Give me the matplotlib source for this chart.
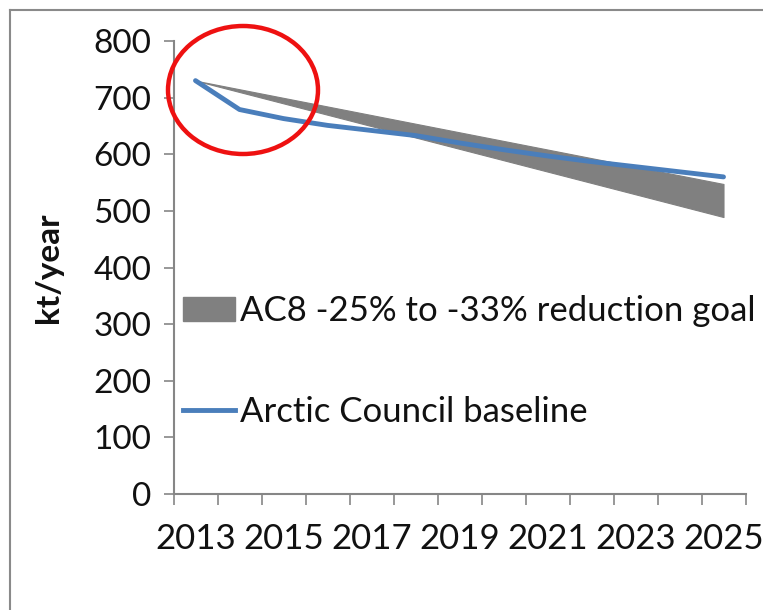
import numpy as np
import matplotlib
matplotlib.use("Agg")
import matplotlib.pyplot as plt
from matplotlib.patches import Ellipse
from matplotlib.lines import Line2D

# data
years = list(range(2013, 2026))
baseline = [730, 679, 663, 651, 642, 633, 620, 608, 597, 587, 578, 569, 560]
goal_start = 730
goal_low_pct = 0.33   # -33%
goal_high_pct = 0.25  # -25%
tick_labels = [str(y) for y in years[::2]]

plt.rcParams['font.family'] = ['Lato', 'DejaVu Sans']

W, H = 763, 610
fig = plt.figure(figsize=(W / 100, H / 100), dpi=100)

def px(x0, y0, x1, y1):
    return [x0 / W, 1 - y1 / H, (x1 - x0) / W, (y1 - y0) / H]

ax = fig.add_axes(px(173.5, 41, 745.5, 494))

x = np.arange(len(years))
# goal band: straight reduction from start year to final year
frac = x / x[-1]
upper = goal_start * (1 - goal_high_pct * frac)
lower = goal_start * (1 - goal_low_pct * frac)
ax.fill_between(x, lower, upper, color='#808080', linewidth=0.8,
                edgecolor='#808080', zorder=2)
ax.plot(x, baseline, color='#4a7ebb', lw=3.5, solid_capstyle='round',
        solid_joinstyle='round', zorder=3)

ax.set_xlim(-0.5, len(years) - 0.5)
ax.set_ylim(0, 800)
ax.set_yticks(range(0, 801, 100))
ax.set_xticks(x[::2])
ax.set_xticklabels(tick_labels)
ax.set_xticks(np.arange(-0.5, len(years), 1.0), minor=True)

for s in ['top', 'right']:
    ax.spines[s].set_visible(False)
for s in ['left', 'bottom']:
    ax.spines[s].set_color('#868686')
    ax.spines[s].set_linewidth(1.5)

ax.tick_params(axis='y', length=7, width=1.2, color='#868686', pad=9,
               labelsize=24, labelcolor='#111111')
ax.tick_params(axis='x', which='major', length=0, pad=21,
               labelsize=25, labelcolor='#111111')
ax.tick_params(axis='x', which='minor', length=8, width=1.2, color='#868686')

ax.set_ylabel('kt/year', fontsize=24, fontweight='bold', labelpad=22,
              color='#111111')

handles = [plt.Rectangle((0, 0), 1, 1, color='#808080'),
           Line2D([0], [0], color='#4a7ebb', lw=3.5)]
leg = ax.legend(handles, ['AC8 -25% to -33% reduction goal',
                          'Arctic Council baseline'],
                loc='upper left', bbox_to_anchor=(-0.008, 0.47), frameon=False,
                fontsize=25, handlelength=1.5, handletextpad=0.15,
                labelspacing=2.0, borderaxespad=0.0)
for t in leg.get_texts():
    t.set_color('#111111')

# red highlight circle
circ = Ellipse((243 / W, 1 - 90 / H), 150 / W, 128 / H, transform=fig.transFigure,
               fill=False, edgecolor='#ee1111', lw=3.2, zorder=10)
fig.patches.append(circ)

# outer frame (top and left)
fig.add_artist(Line2D([10 / W, 1], [1 - 9.5 / H, 1 - 9.5 / H],
                      transform=fig.transFigure, color='#8a8a8a', lw=1.5))
fig.add_artist(Line2D([10 / W, 10 / W], [0, 1 - 9.5 / H],
                      transform=fig.transFigure, color='#8a8a8a', lw=1.5))

fig.savefig('out.png', dpi=100)
